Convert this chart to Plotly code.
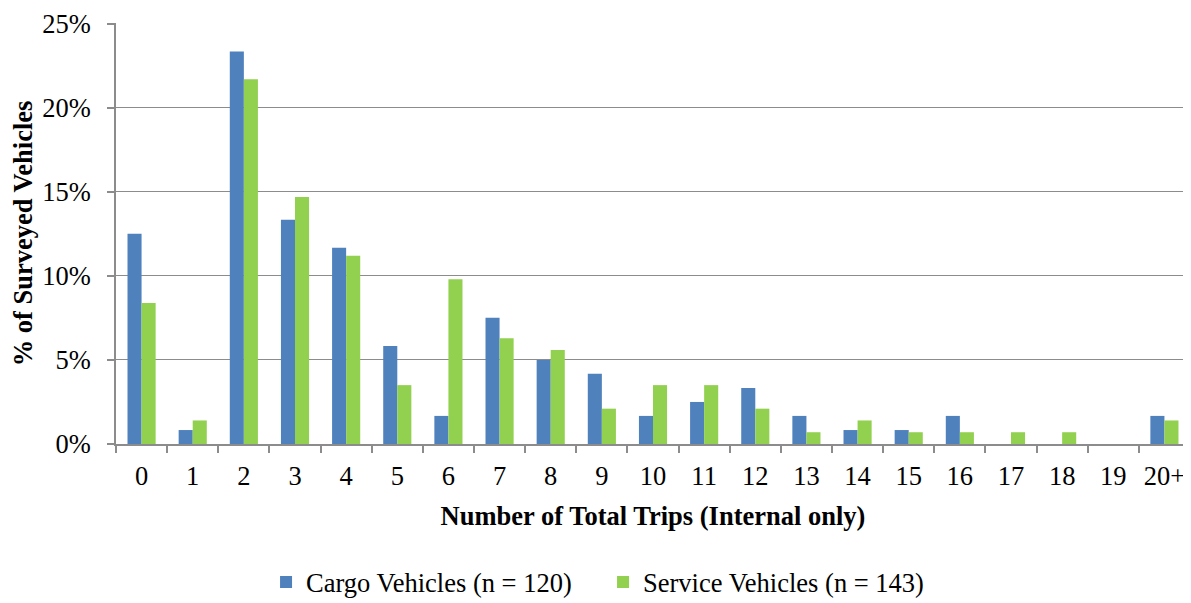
import plotly.graph_objects as go

categories = ["0","1","2","3","4","5","6","7","8","9","10","11","12","13","14","15","16","17","18","19","20+"]
cargo_pct = [12.50, 0.83, 23.33, 13.33, 11.67, 5.83, 1.67, 7.50, 5.00, 4.17, 1.67, 2.50, 3.33, 1.67, 0.83, 0.83, 1.67, 0.0, 0.0, 0.0, 1.67]
service_pct = [8.39, 1.40, 21.68, 14.69, 11.19, 3.50, 9.79, 6.29, 5.59, 2.10, 3.50, 3.50, 2.10, 0.70, 1.40, 0.70, 0.70, 0.70, 0.70, 0.0, 1.40]
y_ticks = [0, 5, 10, 15, 20, 25]
y_tick_labels = ["0%", "5%", "10%", "15%", "20%", "25%"]

FONT = "Liberation Serif, Times New Roman, serif"
GRID = "#8c8c8c"
FS = 26.5

fig = go.Figure()
fig.add_trace(go.Bar(x=categories, y=cargo_pct, name="Cargo Vehicles (n = 120)",
                     marker=dict(color="#4F81BD", line=dict(width=0))))
fig.add_trace(go.Bar(x=categories, y=service_pct, name="Service Vehicles (n = 143)",
                     marker=dict(color="#92D050", line=dict(width=0))))

fig.update_layout(
    width=1183, height=595,
    margin=dict(l=107, r=1, t=9, b=159),
    paper_bgcolor="white", plot_bgcolor="white",
    barmode="group", bargap=0.45, bargroupgap=0,
    font=dict(family=FONT, size=FS, color="black"),
    showlegend=True,
    legend=dict(orientation="h", xref="container", x=0.503, xanchor="center",
                yref="container", y=0.035, yanchor="middle",
                font=dict(size=FS), itemwidth=30, traceorder="normal",
                entrywidth=292),
)
fig.update_yaxes(
    range=[0, 25.03], tickvals=y_ticks, ticktext=y_tick_labels,
    showgrid=True, gridcolor=GRID, gridwidth=1.3,
    showline=True, linecolor=GRID, linewidth=1.5,
    ticks="outside", ticklen=7, tickcolor=GRID, tickwidth=1.5,
    tickfont=dict(size=FS), zeroline=False, ticklabelstandoff=11,
    ticklabeloverflow="allow",
    title=dict(text="<b>% of Surveyed Vehicles</b>", font=dict(size=FS), standoff=15),
)
fig.update_xaxes(
    type="category", tickson="boundaries",
    showline=True, linecolor=GRID, linewidth=1.5,
    ticks="outside", ticklen=7, tickcolor=GRID, tickwidth=1.5,
    tickfont=dict(size=FS), showgrid=False, ticklabelstandoff=7,
    title=dict(text="<b>Number of Total Trips (Internal only)</b>", font=dict(size=FS), standoff=17),
)

fig.write_html("out.html")
